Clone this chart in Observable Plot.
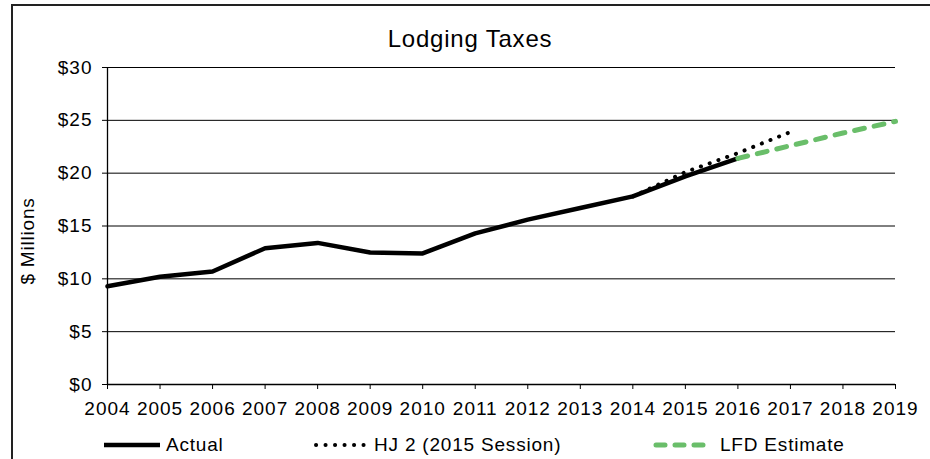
<!DOCTYPE html>
<html>
<head>
<meta charset="utf-8">
<script src="https://cdn.jsdelivr.net/npm/d3@7"></script>
<script src="https://cdn.jsdelivr.net/npm/@observablehq/plot@0.6"></script>
<style>
  html, body { margin: 0; padding: 0; background: #fff; }
  #wrap { position: relative; width: 930px; height: 459px; overflow: hidden; font-family: "Liberation Sans", Arial, sans-serif; color: #000; }
  #frame { position: absolute; left: 11px; top: 4px; width: 940px; height: 480px; border-left: 2px solid #222; border-top: 2px solid #222; }
  #title { position: absolute; top: 25px; left: 470px; transform: translateX(-50%); font-size: 24px; letter-spacing: 0.8px; white-space: nowrap; }
  #ylabel { position: absolute; left: 28px; top: 241px; transform: translate(-50%, -50%) rotate(-90deg); font-size: 19px; letter-spacing: 0.8px; white-space: nowrap; }
  .leg { position: absolute; top: 434px; font-size: 19px; letter-spacing: 0.8px; display: flex; align-items: center; white-space: nowrap; }
  #plot { position: absolute; left: 0; top: 0; }
  #plot svg text { letter-spacing: 1px; }
</style>
</head>
<body>
<div id="wrap">
  <div id="plot"></div>
  <div id="frame"></div>
  <div id="title">Lodging Taxes</div>
  <div id="ylabel">$ Millions</div>
</div>
<script>
const years = [2004, 2005, 2006, 2007, 2008, 2009, 2010, 2011, 2012, 2013, 2014, 2015, 2016];
const actual = [9.3, 10.2, 10.7, 12.9, 13.4, 12.5, 12.4, 14.3, 15.6, 16.7, 17.8, 19.7, 21.4];
const hjYears = [2014, 2015, 2016, 2017];
const hj2 = [17.8, 20.1, 21.9, 23.9];
const lfdYears = [2016, 2017, 2018, 2019];
const lfd = [21.4, 22.6, 23.8, 24.9];
const yTicks = [0, 5, 10, 15, 20, 25, 30];
const xTicks = [2004, 2005, 2006, 2007, 2008, 2009, 2010, 2011, 2012, 2013, 2014, 2015, 2016, 2017, 2018, 2019];
const seriesNames = ["Actual", "HJ 2 (2015 Session)", "LFD Estimate"];

const actualData = years.map((y, i) => ({year: y, value: actual[i]}));
const hjData = hjYears.map((y, i) => ({year: y, value: hj2[i]}));
const lfdData = lfdYears.map((y, i) => ({year: y, value: lfd[i]}));
const green = "#6abe6a";

const chart = Plot.plot({
  width: 930,
  height: 459,
  marginLeft: 107,
  marginRight: 35,
  marginTop: 67,
  marginBottom: 75,
  style: {fontFamily: "'Liberation Sans', Arial, sans-serif", fontSize: "19px", color: "#000", background: "transparent"},
  x: {domain: [2004, 2019]},
  y: {domain: [0, 30]},
  marks: [
    Plot.ruleY(yTicks.filter(d => d > 0), {stroke: "#000", strokeWidth: 1}),
    Plot.axisY({ticks: yTicks, tickFormat: d => "$" + d, tickSize: 5, tickPadding: 10, label: null, stroke: "#000", fontSize: 19}),
    Plot.axisX({ticks: xTicks, tickFormat: d => String(d), tickSize: 5, tickPadding: 12, label: null, stroke: "#000", fontSize: 19}),
    Plot.ruleX([2004], {stroke: "#000", strokeWidth: 1.3}),
    Plot.ruleY([0], {stroke: "#000", strokeWidth: 1.3}),
    Plot.line(actualData, {x: "year", y: "value", stroke: "#000", strokeWidth: 4.5}),
    Plot.line(hjData, {x: "year", y: "value", stroke: "#000", strokeWidth: 4, strokeDasharray: "0.1 9.2", strokeLinecap: "round"}),
    Plot.line(lfdData, {x: "year", y: "value", stroke: green, strokeWidth: 5, strokeDasharray: "10 10", strokeLinecap: "round"})
  ]
});
document.getElementById("plot").appendChild(chart);

// Legend
const wrap = document.getElementById("wrap");
const legendSpecs = [
  {name: seriesNames[0], left: 103, stroke: "#000", width: 4.5, dash: null, cap: "butt", x1: 1, x2: 57, w: 58, gap: 5},
  {name: seriesNames[1], left: 313, stroke: "#000", width: 4, dash: "0.1 9.4", cap: "round", x1: 3, x2: 54, w: 57, gap: 4},
  {name: seriesNames[2], left: 652, stroke: green, width: 5, dash: "9 10", cap: "round", x1: 4, x2: 53, w: 58, gap: 10}
];
for (const s of legendSpecs) {
  const div = document.createElement("div");
  div.className = "leg";
  div.style.left = s.left + "px";
  const svg = d3.create("svg").attr("width", s.w).attr("height", 20).style("margin-right", s.gap + "px");
  svg.append("line")
    .attr("x1", s.x1).attr("x2", s.x2)
    .attr("y1", 10).attr("y2", 10)
    .attr("stroke", s.stroke).attr("stroke-width", s.width)
    .attr("stroke-linecap", s.cap)
    .attr("stroke-dasharray", s.dash);
  div.appendChild(svg.node());
  const span = document.createElement("span");
  span.textContent = s.name;
  div.appendChild(span);
  wrap.appendChild(div);
}
</script>
</body>
</html>
